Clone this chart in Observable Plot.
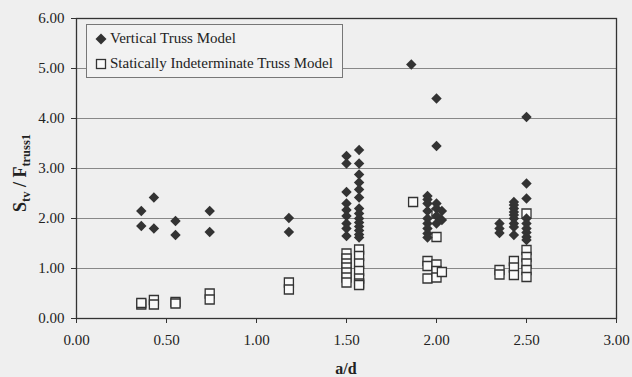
<!DOCTYPE html>
<html>
<head>
<meta charset="utf-8">
<script src="https://cdn.jsdelivr.net/npm/d3@7"></script>
<script src="https://cdn.jsdelivr.net/npm/@observablehq/plot@0.6"></script>
<style>
  html, body { margin: 0; padding: 0; background: #efefef; }
  #wrap { position: relative; width: 632px; height: 377px; font-family: "Liberation Serif", "Times New Roman", "DejaVu Serif", serif; }
  #legend { position: absolute; left: 86px; top: 24px; width: 257px; height: 54px; border: 1px solid #777; background: #f2f2f2; box-sizing: border-box; font-size: 15px; color: #222; }
  #legend .row { position: absolute; left: 8px; display: flex; align-items: center; white-space: nowrap; }
  #legend svg { margin-right: 3px; }
  svg text { font-family: "Liberation Serif", "Times New Roman", "DejaVu Serif", serif; }
</style>
</head>
<body>
<div id="wrap">
  <div id="chart"></div>
  <div id="legend">
    <div class="row" style="top:5px"><svg width="12" height="12"><path d="M6,0.5L11.5,6L6,11.5L0.5,6Z" fill="#333"/></svg>Vertical Truss Model</div>
    <div class="row" style="top:30px"><svg width="12" height="12"><rect x="1.5" y="1.5" width="9" height="9" fill="#fafafa" stroke="#333" stroke-width="1.3"/></svg>Statically Indeterminate Truss Model</div>
  </div>
</div>
<script>
// a/d positions and S_tv/F_truss1 values per position
const vtAd = [0.36, 0.43, 0.55, 0.74, 1.18, 1.50, 1.57, 1.86, 1.95, 2.00, 2.03, 2.35, 2.43, 2.50];
const vtVals = [
  [2.15, 1.85],
  [2.42, 1.80],
  [1.95, 1.67],
  [2.15, 1.73],
  [2.01, 1.73],
  [3.25, 3.10, 2.53, 2.30, 2.17, 2.05, 1.90, 1.80, 1.65],
  [3.37, 3.10, 2.88, 2.72, 2.58, 2.42, 2.20, 2.10, 2.00, 1.92, 1.84, 1.76, 1.68, 1.62],
  [5.08],
  [2.45, 2.38, 2.30, 2.15, 2.00, 1.90, 1.80, 1.70, 1.62],
  [4.40, 3.45, 2.30, 2.20, 2.05, 1.90],
  [2.15, 1.97],
  [1.90, 1.80, 1.71],
  [2.33, 2.27, 2.20, 2.13, 2.07, 2.00, 1.90, 1.83, 1.67],
  [4.03, 2.70, 2.40, 2.00, 1.90, 1.80, 1.72, 1.63, 1.57]
];
const siAd = [0.36, 0.43, 0.55, 0.74, 1.18, 1.50, 1.57, 1.87, 1.95, 2.00, 2.03, 2.35, 2.43, 2.50];
const siVals = [
  [0.28, 0.31],
  [0.37, 0.28],
  [0.33, 0.30],
  [0.50, 0.38],
  [0.72, 0.58],
  [1.30, 1.20, 1.10, 1.02, 0.92, 0.82, 0.72],
  [1.38, 1.25, 1.10, 0.95, 0.80, 0.70, 0.67],
  [2.33],
  [1.15, 1.05, 0.80],
  [2.10, 1.63, 1.08, 0.95, 0.82],
  [0.93],
  [0.97, 0.88],
  [1.15, 1.02, 0.87],
  [2.10, 1.37, 1.23, 1.10, 0.97, 0.83]
];
const xTicks = [0, 0.5, 1, 1.5, 2, 2.5, 3];
const yTicks = [0, 1, 2, 3, 4, 5, 6];

const vt = vtAd.flatMap((x, i) => vtVals[i].map(y => ({x, y})));
const si = siAd.flatMap((x, i) => siVals[i].map(y => ({x, y})));

const serif = "'Liberation Serif', 'Times New Roman', 'DejaVu Serif', serif";

const plot = Plot.plot({
  width: 632,
  height: 377,
  marginLeft: 76,
  marginRight: 16,
  marginTop: 18,
  marginBottom: 59,
  style: { background: "#efefef", fontFamily: serif, fontSize: "15px", color: "#222" },
  x: { domain: [0, 3], label: null },
  y: { domain: [0, 6], label: null },
  marks: [
    Plot.gridY(yTicks, { stroke: "#888", strokeOpacity: 1, strokeWidth: 1 }),
    Plot.frame({ stroke: "#333", strokeWidth: 1.3 }),
    Plot.axisX({ ticks: xTicks, tickFormat: d3.format(".2f"), tickSize: 5, tickPadding: 11, stroke: "#333", fontSize: 15, label: null }),
    Plot.axisY({ ticks: yTicks, tickFormat: d3.format(".2f"), tickSize: 5, tickPadding: 7, stroke: "#333", fontSize: 15, label: null }),
    Plot.dot(si, { x: "x", y: "y", symbol: "square", r: 5.1, fill: "#fafafa", stroke: "#333", strokeWidth: 1.3 }),
    Plot.dot(vt, { x: "x", y: "y", symbol: "diamond2", r: 4.7, fill: "#333", stroke: "none" })
  ]
});
document.getElementById("chart").appendChild(plot);

// axis titles
const svg = d3.select(plot);
svg.append("text")
  .attr("x", 346).attr("y", 374)
  .attr("text-anchor", "middle")
  .attr("font-weight", "bold").attr("font-size", 16)
  .attr("fill", "#222")
  .text("a/d");
const yl = svg.append("text")
  .attr("transform", "translate(26,173) rotate(-90)")
  .attr("text-anchor", "middle")
  .attr("font-weight", "bold").attr("font-size", 18)
  .attr("fill", "#222");
yl.append("tspan").text("S");
yl.append("tspan").attr("font-size", 12.5).attr("dy", 4).text("tv");
yl.append("tspan").attr("dy", -4).text(" / F");
yl.append("tspan").attr("font-size", 12.5).attr("dy", 4).text("truss1");
</script>
</body>
</html>
